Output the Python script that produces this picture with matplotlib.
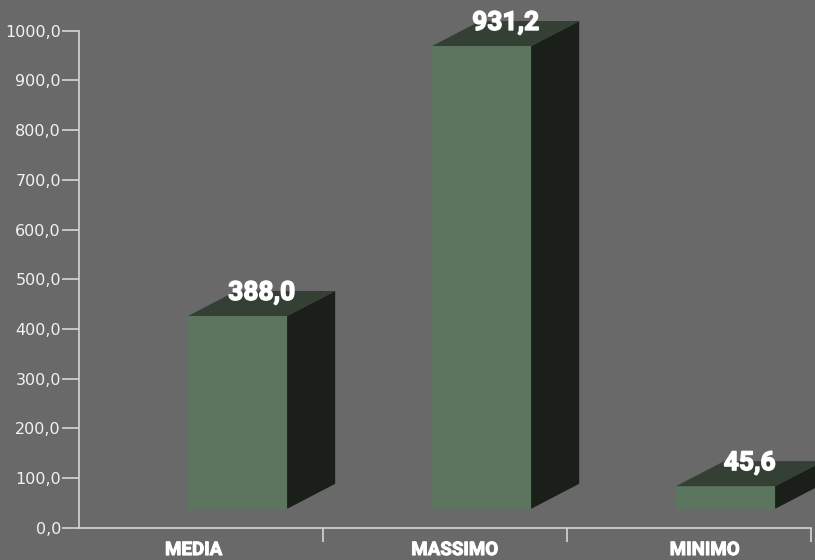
import matplotlib
matplotlib.use("Agg")
import matplotlib.pyplot as plt
import matplotlib.patheffects as pe
from matplotlib.patches import Polygon

categorias = ["MEDIA", "MASSIMO", "MINIMO"]
valori = [388.0, 931.2, 45.6]
etichette = ["388,0", "931,2", "45,6"]
yticks = [0, 100, 200, 300, 400, 500, 600, 700, 800, 900, 1000]

sfondo = "#696969"
col_fronte = "#5b755e"
col_top = "#354035"
col_lato = "#1a1f19"
col_asse = "#d6d6d6"

# geometria delle barre 3D (in unità di categoria / unità dati)
x_off = 0.447
larg = 0.406
dx = 0.197
dy = 50.3
base = 38.0

fig = plt.figure(figsize=(8.15, 5.6), dpi=100, facecolor=sfondo)
ax = fig.add_axes([79 / 815, (560 - 527.7) / 560, (811 - 79) / 815, (527.7 - 30.7) / 560])
ax.set_facecolor(sfondo)
ax.set_xlim(0, 3)
ax.set_ylim(0, 1000)

for i, v in enumerate(valori):
    x0 = i + x_off
    x1 = x0 + larg
    y0 = base
    y1 = base + v
    fronte = Polygon([(x0, y0), (x1, y0), (x1, y1), (x0, y1)], closed=True,
                     facecolor=col_fronte, edgecolor="none", clip_on=False)
    lato = Polygon([(x1, y0), (x1 + dx, y0 + dy), (x1 + dx, y1 + dy), (x1, y1)], closed=True,
                   facecolor=col_lato, edgecolor="none", clip_on=False)
    top = Polygon([(x0, y1), (x1, y1), (x1 + dx, y1 + dy), (x0 + dx, y1 + dy)], closed=True,
                  facecolor=col_top, edgecolor="none", clip_on=False)
    for p in (fronte, lato, top):
        ax.add_patch(p)
    ax.text((x0 + x1 + dx) / 2, y1 + dy - 4, etichette[i], ha="center", va="center",
            color="white", fontsize=19, fontweight="bold", family="Roboto", clip_on=False,
            path_effects=[pe.withStroke(linewidth=1.0, foreground="white")])

# etichette delle categorie
spost = [-0.03, 0.04, 0.065]
for i, c in enumerate(categorias):
    ax.text(i + 0.5 + spost[i], -45, c, ha="center", va="center", color="white",
            fontsize=13.5, fontweight="bold", family="Roboto",
            path_effects=[pe.withStroke(linewidth=0.7, foreground="white")])

ax.set_yticks(yticks)
ax.set_yticklabels([("%.1f" % t).replace(".", ",") for t in yticks])
ax.set_xticks([1, 2, 3])
ax.set_xticklabels([])
ax.tick_params(axis="y", colors=col_asse, length=12, width=1.2, labelsize=11.5, pad=1,
               labelcolor="#f2f2f2")
ax.tick_params(axis="x", colors=col_asse, length=10, width=1.2, direction="out")
for lab in ax.get_yticklabels():
    lab.set_family("DejaVu Sans")
    lab.set_fontweight("medium")

for s in ("top", "right"):
    ax.spines[s].set_visible(False)
for s in ("left", "bottom"):
    ax.spines[s].set_color(col_asse)
    ax.spines[s].set_linewidth(1.2)

fig.savefig("out.png", dpi=100, facecolor=sfondo)
